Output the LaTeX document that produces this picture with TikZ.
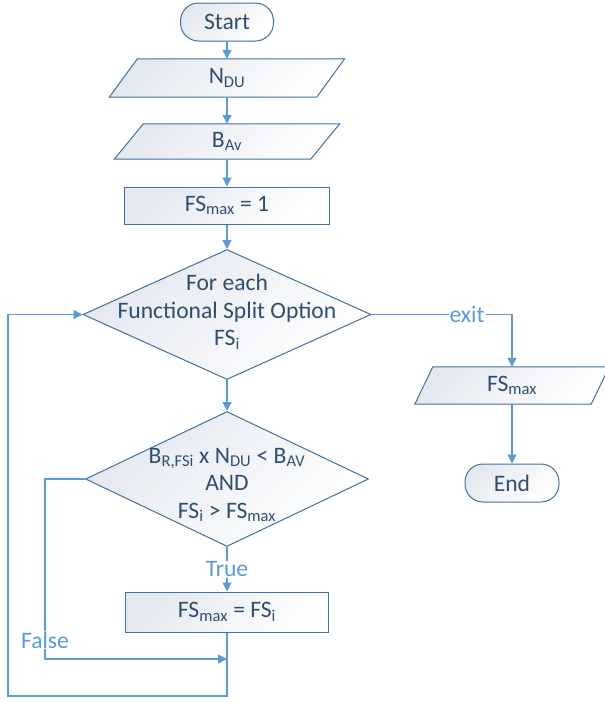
\documentclass[tikz,border=0pt]{standalone}
\usepackage{fontspec}
\setmainfont{Carlito}
\usetikzlibrary{arrows.meta,shapes.geometric,backgrounds}
\definecolor{linec}{HTML}{5B9BD5}
\definecolor{bordc}{HTML}{41719C}
\definecolor{textc}{HTML}{304E70}
\definecolor{shadec}{HTML}{E4E8EF}
\tikzset{
  fillshape/.style={draw=bordc, line width=1pt, left color=shadec, right color=white, shading angle=45},
  boxnode/.style={fillshape, rectangle, inner sep=0pt, text=textc},
  stadium/.style={fillshape, rectangle, rounded corners=18pt, inner sep=0pt, text=textc, minimum width=93pt, minimum height=38pt},
  ionode/.style={rectangle, inner sep=0pt, text=textc},
  decnode/.style={fillshape, diamond, inner sep=0pt},
  txtnode/.style={text=textc, align=center, inner sep=0pt},
  conn/.style={draw=linec, line width=1.3pt, -{Triangle[length=9pt,width=9pt]}},
  lbl/.style={fill=white, text=linec, inner sep=1pt},
  every node/.style={font=\fontsize{23.6}{27.5}\selectfont}
}
\newcommand\iopolygon[2]{%
  \begin{pgfonlayer}{background}
  \path[fillshape] ([xshift=-#2pt]#1.south west) -- ([xshift=#2pt]#1.north west) -- ([xshift=#2pt]#1.north east) -- ([xshift=-#2pt]#1.south east) -- cycle;
  \end{pgfonlayer}}
\begin{document}
\begin{tikzpicture}[x=1pt,y=-1pt]
\useasboundingbox (0,0) rectangle (605,702);
% nodes
\node[stadium] (start) at (227,22) {Start};
\node[ionode, minimum width=207pt, minimum height=38pt] (ndu) at (227,78) {N\textsubscript{DU}};
\iopolygon{ndu}{14}
\node[ionode, minimum width=196pt, minimum height=35pt] (bav) at (227,141.5) {B\textsubscript{Av}};
\iopolygon{bav}{14.5}
\node[boxnode, minimum width=205pt, minimum height=37pt] (fs1) at (227,205.5) {FS\textsubscript{max} = 1};
\node[decnode, minimum width=288pt, minimum height=130pt] (d1) at (227,314.5) {};
\node[txtnode] (t1) at (227,312) {For each\\Functional Split Option\\FS\textsubscript{i}};
\node[decnode, minimum width=283pt, minimum height=135pt] (d2) at (227,479) {};
\node[txtnode] (t2) at (227,485) {B\textsubscript{R,FSi} x N\textsubscript{DU} < B\textsubscript{AV}\\AND\\FS\textsubscript{i} > FS\textsubscript{max}};
\node[boxnode, minimum width=203pt, minimum height=40pt] (r2) at (227,612) {FS\textsubscript{max} = FS\textsubscript{i}};
\node[ionode, minimum width=176pt, minimum height=37pt] (out) at (512,385.5) {FS\textsubscript{max}};
\iopolygon{out}{9}
\node[stadium, minimum width=94pt] (end) at (512,483) {End};
% helper coordinates
\coordinate (fc) at (45,659);
\coordinate (fj) at (227,659);
\coordinate (lc) at (8,696);
% connectors
\draw[conn] (start) -- (ndu);
\draw[conn] (ndu) -- (bav);
\draw[conn] (bav) -- (fs1);
\draw[conn] (fs1) -- (d1);
\draw[conn] (d1) -- (d2);
\draw[conn] (d2) -- node[lbl] {True} (r2);
\draw[conn] (d1.east) -| node[lbl, pos=0.34] {exit} (out.north);
\draw[conn] (out) -- (end);
\draw[conn] (d2.west) -| node[lbl, pos=0.947] {False} (fc) -- (fj);
\draw[conn] (r2.south) |- (lc) |- (d1.west);
\end{tikzpicture}
\end{document}
